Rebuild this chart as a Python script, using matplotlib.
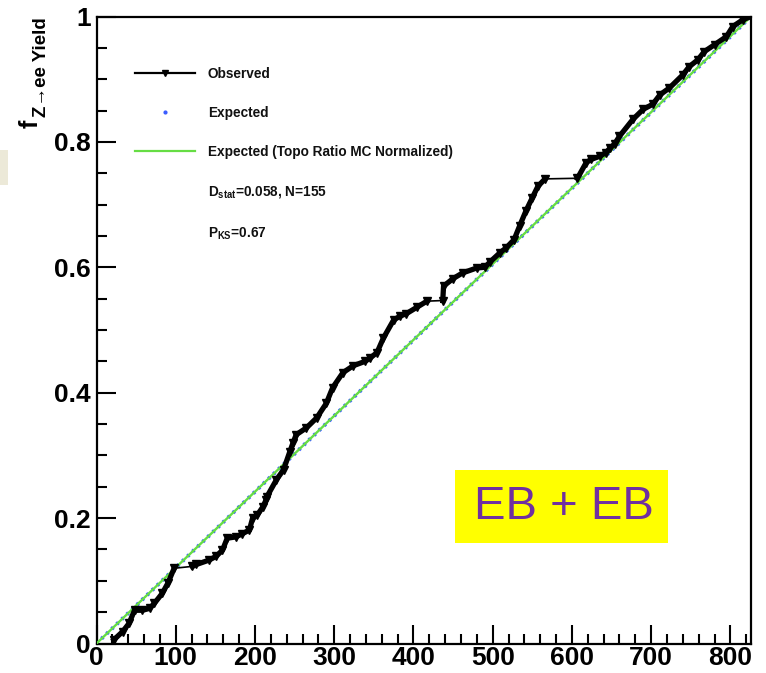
import matplotlib
matplotlib.use("Agg")
import matplotlib.pyplot as plt
from matplotlib.lines import Line2D
from matplotlib.patches import Rectangle
from matplotlib.ticker import MultipleLocator, FixedLocator, FixedFormatter

plt.rcParams['font.family'] = ['Liberation Sans', 'DejaVu Sans']
plt.rcParams['mathtext.fontset'] = 'custom'
plt.rcParams['mathtext.rm'] = 'Liberation Sans:bold'
plt.rcParams['mathtext.it'] = 'Liberation Sans:bold'
plt.rcParams['mathtext.bf'] = 'Liberation Sans:bold'

# ---- data ----
obs_x = [22, 33, 41, 48, 58, 67, 73, 83, 90, 98, 121, 126, 142, 151, 159, 165, 176, 184,
         193, 197, 203, 210, 214, 215, 227, 236, 244, 248, 252, 265, 278, 290, 298, 311,
         324, 339, 345, 354, 362, 375, 383, 391, 404, 417, 437, 438, 450, 462, 480, 490,
         497, 509, 517, 527, 534, 542, 550, 557, 566, 607, 618, 624, 635, 643, 648, 654,
         660, 677, 690, 702, 711, 723, 740, 748, 759, 767, 780, 795, 803, 816, 826]
obs_y = [0.006, 0.019, 0.032, 0.053, 0.053, 0.056, 0.064, 0.080, 0.096, 0.120, 0.123,
         0.126, 0.133, 0.139, 0.149, 0.168, 0.170, 0.175, 0.181, 0.200, 0.205, 0.218,
         0.229, 0.234, 0.261, 0.277, 0.306, 0.320, 0.333, 0.344, 0.360, 0.383, 0.408,
         0.432, 0.443, 0.450, 0.455, 0.464, 0.487, 0.516, 0.522, 0.526, 0.536, 0.546,
         0.547, 0.570, 0.582, 0.591, 0.599, 0.600, 0.609, 0.623, 0.631, 0.644, 0.666,
         0.690, 0.711, 0.729, 0.741, 0.742, 0.767, 0.772, 0.777, 0.783, 0.790, 0.797,
         0.809, 0.836, 0.852, 0.860, 0.875, 0.886, 0.907, 0.920, 0.931, 0.944, 0.955,
         0.968, 0.984, 0.995, 1.000]

exp_x = [0, 100, 200, 300, 400, 500, 600, 700, 800, 826]
exp_y = [0.0, 0.121, 0.242, 0.363, 0.484, 0.605, 0.726, 0.847, 0.968, 1.0]

topo_x = [0, 826]
topo_y = [0.0, 1.0]

x_ticks = [0, 100, 200, 300, 400, 500, 600, 700, 800]
x_labels = ['0', '100', '200', '300', '400', '500', '600', '700', '800']
y_ticks = [0, 0.2, 0.4, 0.6, 0.8, 1.0]
y_labels = ['0', '0.2', '0.4', '0.6', '0.8', '1']

legend_labels = ['Observed', 'Expected', 'Expected (Topo Ratio MC Normalized)',
                 r'$D_{stat}$=0.058, N=155', r'$P_{KS}$=0.67']

W, H = 766, 673
fig = plt.figure(figsize=(W / 100, H / 100), dpi=100)
fig.patch.set_facecolor('white')

def fx(px):
    return px / W

def fy(py):
    return 1 - py / H

ax = fig.add_axes([fx(96.5), fy(643.5), fx(751) - fx(96.5), fy(16.5) - fy(643.5)])

blue = '#3a5cff'
green = '#66dd44'

ax.plot(exp_x, exp_y, color=blue, lw=2.8, ls=(0, (0.6, 1.2)), zorder=2)
ax.plot(topo_x, topo_y, color=green, lw=1.7, zorder=3)

# thin connecting line through every observed point
ax.plot(obs_x, obs_y, color='black', lw=1.2, zorder=4)
# dense stretches appear as a thick jagged band; long flat jumps stay thin
xspan = 826.0
run_x, run_y = [obs_x[0]], [obs_y[0]]
for i in range(1, len(obs_x)):
    dx = obs_x[i] - obs_x[i - 1]
    dy = obs_y[i] - obs_y[i - 1]
    if dx > 12 and dy / dx * xspan < 0.3:
        if len(run_x) > 1:
            ax.plot(run_x, run_y, color='black', lw=3.8, zorder=4, solid_joinstyle='miter')
        run_x, run_y = [], []
    run_x.append(obs_x[i])
    run_y.append(obs_y[i])
if len(run_x) > 1:
    ax.plot(run_x, run_y, color='black', lw=3.8, zorder=4, solid_joinstyle='miter')
ax.plot(obs_x, obs_y, ls='none', color='black', marker='v', ms=6, zorder=5)

ax.set_xlim(0, 826)
ax.set_ylim(0, 1)

ax.xaxis.set_major_locator(FixedLocator(x_ticks))
ax.xaxis.set_major_formatter(FixedFormatter(x_labels))
ax.xaxis.set_minor_locator(MultipleLocator(20))
ax.yaxis.set_major_locator(FixedLocator(y_ticks))
ax.yaxis.set_major_formatter(FixedFormatter(y_labels))
ax.yaxis.set_minor_locator(MultipleLocator(0.05))

ax.tick_params(which='both', direction='in', top=False, right=False, width=1.5, color='black')
ax.tick_params(which='major', length=14)
ax.tick_params(which='minor', length=7)
ax.tick_params(axis='x', which='major', pad=1.5)
ax.tick_params(axis='y', which='major', pad=4)
for lab in ax.get_xticklabels() + ax.get_yticklabels():
    lab.set_fontsize(19)
    lab.set_fontweight('bold')
for sp in ax.spines.values():
    sp.set_linewidth(1.6)

# y-axis title (ROOT style, at the top of the axis)
fig.text(fx(31), fy(124), 'f', rotation=90, fontsize=18, fontweight='bold',
         ha='center', va='center')
fig.text(fx(41), fy(67), 'Z\u2192ee Yield', rotation=90, fontsize=13.5, fontweight='bold',
         ha='center', va='center')

# legend
handles = [Line2D([], [], color='black', lw=1.6, marker='v', ms=5),
           Line2D([], [], ls='none', marker='.', color=blue, ms=4),
           Line2D([], [], color=green, lw=1.6),
           Line2D([], [], alpha=0),
           Line2D([], [], alpha=0)]
leg = ax.legend(handles, legend_labels, loc='upper left',
                bbox_to_anchor=(fx(135), fy(67)), bbox_transform=fig.transFigure,
                frameon=False, borderpad=0, borderaxespad=0, handlelength=4.4,
                handletextpad=0.95, labelspacing=1.84,
                prop={'family': 'Liberation Sans', 'weight': 'bold', 'size': 9.8})
for t in leg.get_texts():
    t.set_color('#111111')

# EB + EB annotation box
fig.patches.append(Rectangle((fx(455), fy(543)), fx(668) - fx(455), fy(470) - fy(543),
                             transform=fig.transFigure, facecolor='#ffff00',
                             edgecolor='none', zorder=5))
fig.text(fx(564), fy(507), 'EB + EB', fontsize=34, color='#7030a0',
         ha='center', va='center', zorder=6)

# small beige patch at the left edge
fig.patches.append(Rectangle((0, fy(185)), fx(8), fy(150) - fy(185),
                             transform=fig.transFigure, facecolor='#ece9d8',
                             edgecolor='none', zorder=0))

fig.savefig('out.png', dpi=100)
